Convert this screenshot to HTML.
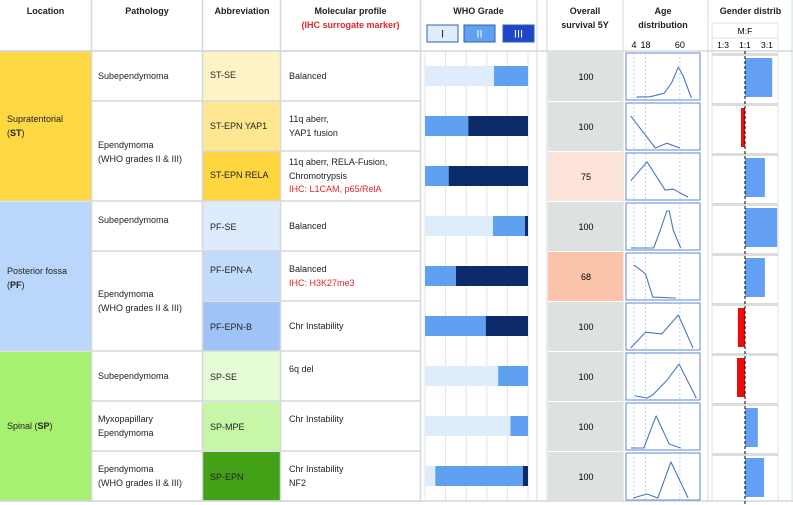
<!DOCTYPE html>
<html><head><meta charset="utf-8">
<style>
body{margin:0;background:#fff;}
#wrap{position:relative;width:793px;height:505px;overflow:hidden;font-family:"Liberation Sans",sans-serif;font-size:9px;color:#222;}
.c{position:absolute;box-sizing:border-box;}
.t{position:absolute;white-space:nowrap;line-height:13.5px;}
.h{font-weight:bold;text-align:center;}
.red{color:#e0262a;}
</style></head><body>
<div id="wrap">
<!-- header -->
<div class="t h" style="left:0;width:91px;top:5px">Location</div>
<div class="t h" style="left:92px;width:110px;top:5px">Pathology</div>
<div class="t h" style="left:203px;width:78px;top:5px">Abbreviation</div>
<div class="t h" style="left:281px;width:139px;top:5px">Molecular profile<br><span class="red">(IHC surrogate marker)</span></div>
<div class="t h" style="left:420px;width:117px;top:5px">WHO Grade</div>
<div class="t h" style="left:547px;width:76px;top:5px">Overall<br>survival 5Y</div>
<div class="t h" style="left:625px;width:76px;top:5px">Age<br>distribution</div>
<div class="t h" style="left:708px;width:85px;top:5px">Gender distrib</div>

<!-- location -->
<div class="c" style="left:0;top:51px;width:91px;height:150px;background:#fdd843"><div class="t" style="left:7px;top:62px">Supratentorial<br>(<b>ST</b>)</div></div>
<div class="c" style="left:0;top:202px;width:91px;height:149px;background:#bad7fb"><div class="t" style="left:7px;top:63px">Posterior fossa<br>(<b>PF</b>)</div></div>
<div class="c" style="left:0;top:352px;width:91px;height:149px;background:#a8f06f"><div class="t" style="left:7px;top:68px">Spinal (<b>SP</b>)</div></div>

<!-- pathology -->
<div class="t" style="left:98px;top:70px">Subependymoma</div>
<div class="t" style="left:98px;top:139px">Ependymoma<br>(WHO grades II &amp; III)</div>
<div class="t" style="left:98px;top:214px">Subependymoma</div>
<div class="t" style="left:98px;top:288px">Ependymoma<br>(WHO grades II &amp; III)</div>
<div class="t" style="left:98px;top:370px">Subependymoma</div>
<div class="t" style="left:98px;top:413px">Myxopapillary<br>Ependymoma</div>
<div class="t" style="left:98px;top:463px">Ependymoma<br>(WHO grades II &amp; III)</div>

<!-- abbreviation -->
<div class="c" style="left:203px;top:51px;width:77px;height:50px;background:#fff3c6"><div class="t" style="left:7px;top:18px">ST-SE</div></div>
<div class="c" style="left:203px;top:102px;width:77px;height:49px;background:#ffe792"><div class="t" style="left:7px;top:18px">ST-EPN YAP1</div></div>
<div class="c" style="left:203px;top:151px;width:77px;height:50px;background:#fdd640"><div class="t" style="left:7px;top:18px">ST-EPN RELA</div></div>
<div class="c" style="left:203px;top:202px;width:77px;height:49px;background:#ddebfc"><div class="t" style="left:7px;top:19px">PF-SE</div></div>
<div class="c" style="left:203px;top:251px;width:77px;height:50px;background:#c2dbfb"><div class="t" style="left:7px;top:13px">PF-EPN-A</div></div>
<div class="c" style="left:203px;top:302px;width:77px;height:49px;background:#9fc3f7"><div class="t" style="left:7px;top:19px">PF-EPN-B</div></div>
<div class="c" style="left:203px;top:352px;width:77px;height:49px;background:#e6fcd6"><div class="t" style="left:7px;top:19px">SP-SE</div></div>
<div class="c" style="left:203px;top:402px;width:77px;height:49px;background:#c7f7a6"><div class="t" style="left:7px;top:19px">SP-MPE</div></div>
<div class="c" style="left:203px;top:452px;width:77px;height:49px;background:#43a118"><div class="t" style="left:7px;top:19px">SP-EPN</div></div>

<!-- molecular -->
<div class="t" style="left:289px;top:70px">Balanced</div>
<div class="t" style="left:289px;top:113px">11q aberr,<br>YAP1 fusion</div>
<div class="t" style="left:289px;top:156px">11q aberr, RELA-Fusion,<br>Chromotrypsis<br><span class="red">IHC: L1CAM, p65/RelA</span></div>
<div class="t" style="left:289px;top:220px">Balanced</div>
<div class="t" style="left:289px;top:263px">Balanced<br><span class="red">IHC: H3K27me3</span></div>
<div class="t" style="left:289px;top:320px">Chr Instability</div>
<div class="t" style="left:289px;top:363px">6q del</div>
<div class="t" style="left:289px;top:413px">Chr Instability</div>
<div class="t" style="left:289px;top:463px">Chr Instability<br>NF2</div>

<svg id="chart" class="c" style="left:0;top:0" width="793" height="505"></svg>
</div>
<script>
const rows=["ST-SE","ST-EPN YAP1","ST-EPN RELA","PF-SE","PF-EPN-A","PF-EPN-B","SP-SE","SP-MPE","SP-EPN"];
const gradeI=[67,0,0,66,0,0,71,83,10];
const gradeII=[33,42,23,31,30,59,29,17,85];
const gradeIII=[0,58,77,3,70,41,0,0,5];
const survival=[100,100,75,100,68,100,100,100,100];
const genderRatio=[3.9,0.82,2.7,5.0,2.7,0.7,0.67,1.9,2.6];
const ageTicks=[4,18,60];
const genderTicks=["1:3","1:1","3:1"];
const ageX=[[7,24,41,50,58,64,74],[0,30,44,60],[0,20,42,52,70],[0,28,36,44,47,52,61],[4,18,27,55],[0,18,38,58,76],[5,20,27,44,59,80],[0,16,31,47,61],[3,20,33,49,70]];
const ageY=[[0.02,0.03,0.11,0.35,0.7,0.5,0],[0.73,0,0.11,0],[0.39,0.82,0.18,0.2,0.02],[0,0,0.4,0.84,0.84,0.4,0],[0.75,0.55,0.02,0],[0,0.36,0.32,0.75,0],[0.05,0,0.07,0.4,0.77,0],[0,0,0.73,0.09,0],[0,0.09,0,0.82,0]];

const svg=document.getElementById('chart');const NS='http://www.w3.org/2000/svg';
function mk(tag,at,name,parent){const e=document.createElementNS(NS,tag);for(const k in at)e.setAttribute(k,at[k]);


(parent||svg).appendChild(e);return e;}
const rowTop=i=>51+i*50;
const whoX=p=>425+p*1.03;
const ageSX=a=>630.7+a*0.82;
const gX=r=>745+Math.log(r)*20;

// grid lines
const G='#d3d8da';
[51,201,351,501].forEach(y=>mk('line',{x1:0,x2:92,y1:y,y2:y,stroke:G,'stroke-width':1.5},'location-gridline'));
[51,101,201,251,351,401,451,501].forEach(y=>mk('line',{x1:92,x2:203,y1:y,y2:y,stroke:G,'stroke-width':1.5},'pathology-gridline'));
[51,101,151,201,251,301,351,401,451,501].forEach(y=>mk('line',{x1:203,x2:420,y1:y,y2:y,stroke:G,'stroke-width':1.5},'row-gridline'));
[91.5,202.5,280.5,420.5].forEach(x=>mk('line',{x1:x,x2:x,y1:0,y2:502,stroke:G,'stroke-width':1.5},'col-gridline'));
mk('line',{x1:0,x2:793,y1:51,y2:51,stroke:G,'stroke-width':1.5},'header-line');
mk('line',{x1:0,x2:793,y1:501,y2:501,stroke:G,'stroke-width':1.5},'bottom-line');
[537,547,623,708,792].forEach(x=>mk('line',{x1:x,x2:x,y1:0,y2:502,stroke:G,'stroke-width':1},'col-gridline'));
[0,20,40,60,80,100].forEach(p=>mk('line',{x1:whoX(p),x2:whoX(p),y1:51,y2:501,stroke:'#e4e4e4','stroke-width':1},'who-gridline'));
// WHO legend
[['I','#deedf9','#222',427],['II','#5fa0f0','#fff',464],['III','#1f45c8','#fff',503]].forEach(d=>{
 mk('rect',{x:d[3],y:25,width:31,height:17,fill:d[1],stroke:'#2f5fb3','stroke-width':1},'who-legend-'+d[0]);
 const t=mk('text',{x:d[3]+15.5,y:37.5,'text-anchor':'middle','font-size':11,fill:d[2],'font-family':'Liberation Sans'},'who-legend-label');t.textContent=d[0];
});
// age header ticks
ageTicks.forEach(a=>{const t=mk('text',{x:ageSX(a),y:48,'text-anchor':'middle','font-size':9,'font-family':'Liberation Sans'},'age-tick-label');t.textContent=a;});
// gender header
mk('rect',{x:712,y:23,width:66,height:15,fill:'#fff',stroke:'#e0e0e0'},'gender-subheader-box');
let mf=mk('text',{x:745,y:34,'text-anchor':'middle','font-size':8.5,'font-family':'Liberation Sans'},'gender-mf-label');mf.textContent='M:F';
[1/3,1,3].forEach((r,i)=>{const t=mk('text',{x:gX(r),y:48,'text-anchor':'middle','font-size':8.5,'font-family':'Liberation Sans'},'gender-tick-label');t.textContent=genderTicks[i];});

rows.forEach((r,i)=>{
 const top=rowTop(i);
 let x=whoX(0);const by=top+15,bh=20;
 [[gradeI[i],'#deedf9'],[gradeII[i],'#5fa0f0'],[gradeIII[i],'#0d2a6b']].forEach((g,k)=>{
   if(g[0]>0){const w=whoX(g[0])-whoX(0);mk('rect',{x:x,y:by,width:w,height:bh,fill:g[1]},'who-bar-grade'+(k+1));x+=w;}
 });
 const sc=survival[i]>=100?'#dde1e2':(survival[i]>=75?'#fde4db':'#fbc4aa');
 mk('rect',{x:548,y:top+1,width:75,height:49,fill:sc},'survival-cell');
 const st=mk('text',{x:586,y:top+29,'text-anchor':'middle','font-size':9,'font-family':'Liberation Sans'},'survival-value');st.textContent=survival[i];
 mk('rect',{x:626,y:top+2,width:74,height:47,fill:'#fff',stroke:'#5b87d6','stroke-width':1},'age-box');
 ageTicks.forEach(a=>mk('line',{x1:ageSX(a),x2:ageSX(a),y1:top+2,y2:top+49,stroke:'#9cc3ee','stroke-width':0.7,'stroke-dasharray':'2,2'},'age-dashed-line'));
 const base=top+47,hh=44;
 const pts=ageX[i].map((a,k)=>ageSX(a).toFixed(1)+','+(base-ageY[i][k]*hh).toFixed(1)).join(' ');
 mk('polyline',{points:pts,fill:'none',stroke:'#4a78c0','stroke-width':1.1,'stroke-linejoin':'round'},'age-curve');
 mk('rect',{x:712,y:top+2,width:66,height:3,fill:'#dcdcdc'},'gender-row-strip');
 const gr=genderRatio[i],gx=gX(gr),x0=Math.min(gx,745),w=Math.abs(gx-745);
 mk('rect',{x:x0,y:top+7,width:w,height:39,fill:gr>=1?'#64a0f4':'#f00a0a'},'gender-bar');
});
mk('line',{x1:712,x2:712,y1:38,y2:501,stroke:'#e0e0e0'},'gender-left-line');
mk('line',{x1:778,x2:778,y1:38,y2:501,stroke:'#e0e0e0'},'gender-right-line');
mk('line',{x1:745,x2:745,y1:51,y2:505,stroke:'#000','stroke-width':1,'stroke-dasharray':'3,2'},'gender-parity-line');
</script>
</body></html>
